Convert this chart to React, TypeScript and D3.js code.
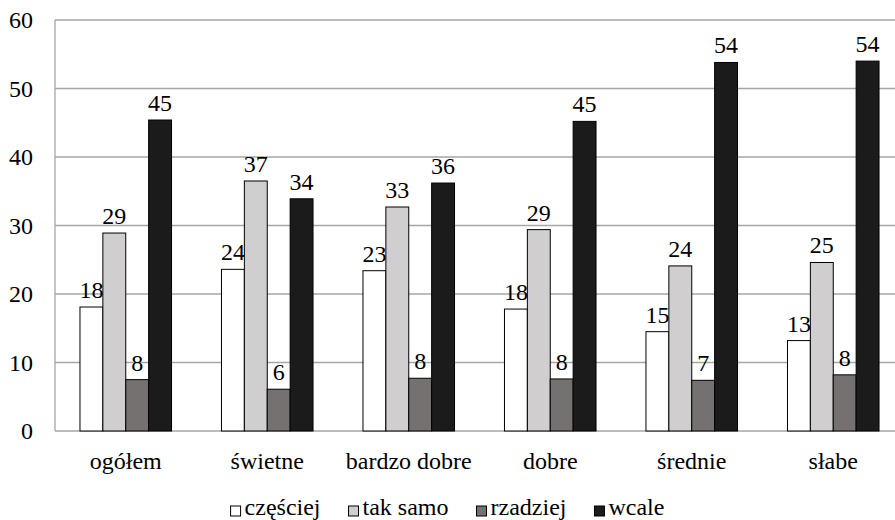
import React from "react";
import * as d3 from "d3";

// categories and series
const categories = ["ogółem", "świetne", "bardzo dobre", "dobre", "średnie", "słabe"];
const seriesNames = ["częściej", "tak samo", "rzadziej", "wcale"];
const czesciej = [18.1, 23.6, 23.4, 17.8, 14.5, 13.2];
const takSamo = [28.9, 36.5, 32.7, 29.4, 24.1, 24.6];
const rzadziej = [7.5, 6.1, 7.7, 7.6, 7.4, 8.2];
const wcale = [45.4, 33.9, 36.2, 45.2, 53.8, 54.0];
const yTicks = [0, 10, 20, 30, 40, 50, 60];

const seriesValues = [czesciej, takSamo, rzadziej, wcale];
const seriesColors = ["#ffffff", "#d0cece", "#767171", "#1b1b1b"];

const W = 895;
const H = 520;
const FAM = '"Times New Roman", "Liberation Serif", Tinos, serif';

function measure(s: string) {
  const ctx = document.createElement("canvas").getContext("2d");
  if (!ctx) return s.length * 10;
  ctx.font = '24px "Times New Roman", "Liberation Serif", serif';
  return ctx.measureText(s).width;
}

export default function App() {
  const x0 = d3.scaleBand<string>().domain(categories).range([55, 904]);
  const groupW = x0.bandwidth() * 0.647;
  const x1 = d3
    .scaleBand<string>()
    .domain(seriesNames)
    .range([(x0.bandwidth() - groupW) / 2, (x0.bandwidth() + groupW) / 2]);
  const y = d3.scaleLinear().domain([0, 60]).range([431, 20]);

  // legend layout
  const spacing = 28;
  const widths = seriesNames.map((s) => 14 + measure(s));
  const total = d3.sum(widths) + spacing * (widths.length - 1);
  const legendX: number[] = [];
  let cx = (W - total) / 2;
  widths.forEach((w) => {
    legendX.push(cx);
    cx += w + spacing;
  });

  const grid = "#a6a6a6";
  const txt = { fontFamily: FAM };

  return (
    <div style={{ fontFamily: FAM, position: "absolute", left: 0, top: 0 }}>
      <svg width={W} height={H} style={{ display: "block" }}>
        <rect x={0} y={0} width={W} height={H} fill="#fff" />
        {yTicks
          .filter((t) => t > 0)
          .map((t) => (
            <line key={t} x1={55} x2={W} y1={y(t)} y2={y(t)} stroke={grid} strokeWidth={1.3} />
          ))}
        <line x1={55} x2={55} y1={y(60)} y2={y(0)} stroke={grid} strokeWidth={1.3} />
        <line x1={55} x2={W} y1={y(0)} y2={y(0)} stroke={grid} strokeWidth={1.3} />

        {yTicks.map((t) => (
          <text key={t} x={33} y={y(t) + 8} textAnchor="end" fontSize={24} style={txt}>
            {t}
          </text>
        ))}

        {categories.map((c, ci) => (
          <g key={c} transform={`translate(${x0(c)},0)`}>
            {seriesNames.map((s, si) => {
              const v = seriesValues[si][ci];
              return (
                <g key={s}>
                  <rect
                    x={x1(s)}
                    width={x1.bandwidth()}
                    y={y(v)}
                    height={y(0) - y(v)}
                    fill={seriesColors[si]}
                    stroke="#000"
                    strokeWidth={1}
                  />
                  <text
                    x={x1(s)! + x1.bandwidth() / 2}
                    y={y(v) - 9}
                    textAnchor="middle"
                    fontSize={24}
                    style={txt}
                  >
                    {Math.round(v)}
                  </text>
                </g>
              );
            })}
            <text x={x0.bandwidth() / 2} y={469} textAnchor="middle" fontSize={24} style={txt}>
              {c}
            </text>
          </g>
        ))}

        {seriesNames.map((s, i) => (
          <g key={s} transform={`translate(${legendX[i]},0)`}>
            <rect x={0} y={506} width={10} height={10} fill={seriesColors[i]} stroke="#000" strokeWidth={1} />
            <text x={14} y={515} fontSize={24} style={txt}>
              {s}
            </text>
          </g>
        ))}
      </svg>
    </div>
  );
}
